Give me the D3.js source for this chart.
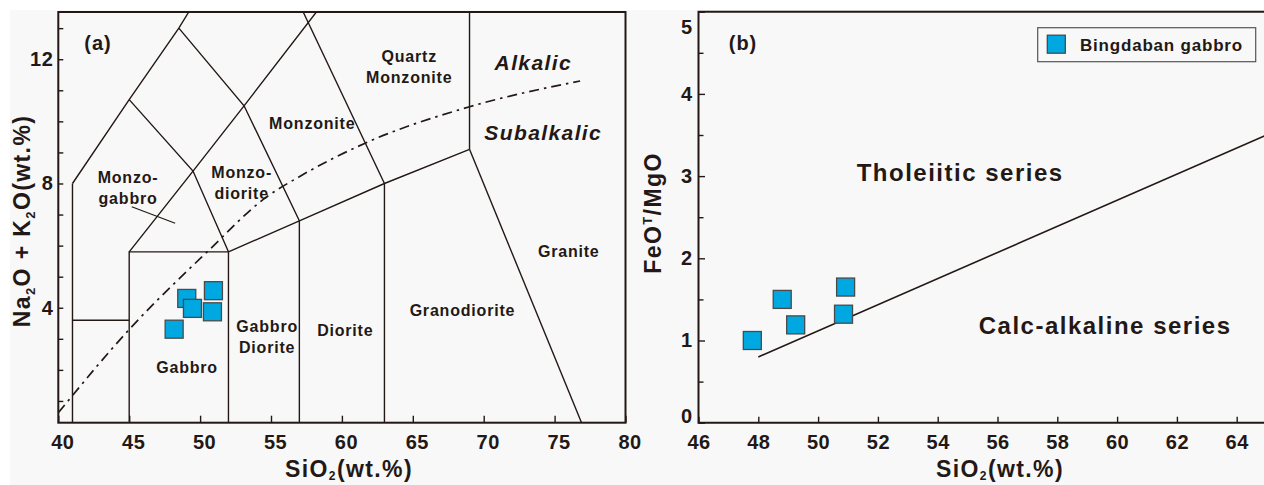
<!DOCTYPE html>
<html>
<head>
<meta charset="utf-8">
<script src="https://cdn.jsdelivr.net/npm/d3@7"></script>
<style>
  html, body { margin: 0; padding: 0; background: #ffffff; }
  svg { display: block; }
  text { fill: #231815; font-family: "Liberation Sans", Arial, sans-serif; font-weight: bold; }
</style>
</head>
<body>
<svg id="chart" width="1264" height="485"></svg>
<script>
// ---- Sample data: Bingdaban gabbro ----
const tasSiO2   = [48.17, 49.06, 49.46, 50.94, 50.87];
const tasAlkali = [3.31, 4.30, 3.98, 4.55, 3.87];

const febSiO2   = [47.80, 48.80, 49.25, 50.85, 50.92];
const febRatio  = [1.00, 1.50, 1.19, 1.32, 1.65];

// ---- Axis ticks ----
const tasXTicks = [40, 45, 50, 55, 60, 65, 70, 75, 80];
const tasYTicks = d3.range(1, 14);            // minor every 1 wt.%
const tasYLabels = [4, 8, 12];
const febXTicks = [46, 48, 50, 52, 54, 56, 58, 60, 62, 64];
const febYTicks = d3.range(0, 5.01, 0.5);
const febYLabels = [0, 1, 2, 3, 4, 5];

// ---- TAS plutonic field boundaries (SiO2, Na2O+K2O) ----
const tasBoundaries = [
  [[41, 0.3], [41, 8]],
  [[41, 3.6], [45, 3.6]],
  [[45, 0.3], [45, 5.8], [52, 5.8], [52, 0.3]],
  [[57, 0.3], [57, 6.8]],
  [[63, 0.3], [63, 8]],
  [[52, 5.8], [57, 6.8], [63, 8], [69, 9.1]],
  [[69, 9.1], [69, 13.52]],
  [[69, 9.1], [76.9, 0.3]],
  [[41, 8], [45, 10.7], [48.5, 13], [49.2, 13.52]],
  [[45, 5.8], [49.5, 8.4], [53.1, 10.5], [58.2, 13.52]],
  [[45, 10.7], [49.5, 8.4], [52, 5.8]],
  [[48.5, 13], [53.1, 10.5], [57, 6.8]],
  [[63, 8], [57.27, 13.52]]
];
const monzogabbroLeader = [[45.18, 7.25], [48.24, 6.72]];

// Alkaline / subalkaline divide
const alkalineDivide = [[40, 0.62], [45, 3.3], [50.5, 5.8], [54.7, 7.57], [57, 8.22],
                        [61.6, 9.29], [69, 10.47], [76.8, 11.3]];

// Field names and their anchor (SiO2, Na2O+K2O)
const tasFieldNames = [
  { lines: ["Monzo-", "gabbro"], at: [44.92, 7.87] },
  { lines: ["Monzo-", "diorite"], at: [52.93, 8.03] },
  { lines: ["Monzonite"], at: [57.91, 9.95] },
  { lines: ["Quartz", "Monzonite"], at: [64.75, 11.75] },
  { lines: ["Gabbro"], at: [49.08, 2.09] },
  { lines: ["Gabbro", "Diorite"], at: [54.73, 3.06] },
  { lines: ["Diorite"], at: [60.24, 3.28] },
  { lines: ["Granodiorite"], at: [68.5, 3.93] },
  { lines: ["Granite"], at: [76.0, 5.83] }
];
const seriesNamesTAS = [
  { text: "Alkalic", at: [73.5, 11.91] },
  { text: "Subalkalic", at: [74.2, 9.63] }
];

// FeOT/MgO vs SiO2 tholeiitic / calc-alkaline divide
const thDivide = [[48, 0.8], [65, 3.5]];
const seriesNamesFeO = [
  { text: "Tholeiitic series", at: [54.75, 3.05] },
  { text: "Calc-alkaline series", at: [59.6, 1.18] }
];

const ink = "#231815";
const markerFill = "#00a8e1";
const markerStroke = "#4a4a4a";
const markerSize = 18;

const svg = d3.select("#chart");

// page panel background
svg.append("rect").attr("x", 10).attr("y", 10).attr("width", 1254).attr("height", 475)
  .attr("fill", "#f8f8f8");

// ================= Panel (a): TAS =================
const xA = d3.scaleLinear().domain([40, 80]).range([58.3, 625.5]);
const yA = d3.scaleLinear().domain([0.3, 13.52]).range([422.7, 12]);
const gA = svg.append("g");

gA.append("clipPath").attr("id", "clipA").append("rect")
  .attr("x", xA(40)).attr("y", yA(13.52))
  .attr("width", xA(80) - xA(40)).attr("height", yA(0.3) - yA(13.52));

const lineA = d3.line().x(d => xA(d[0])).y(d => yA(d[1]));
const fields = gA.append("g").attr("clip-path", "url(#clipA)");
fields.selectAll("path.field").data(tasBoundaries).join("path")
  .attr("class", "field").attr("d", lineA)
  .attr("fill", "none").attr("stroke", ink).attr("stroke-width", 1.4)
  .attr("stroke-linejoin", "miter");
fields.append("path").attr("d", lineA(monzogabbroLeader))
  .attr("fill", "none").attr("stroke", ink).attr("stroke-width", 1.2);
fields.append("path")
  .attr("d", d3.line().x(d => xA(d[0])).y(d => yA(d[1])).curve(d3.curveMonotoneX)(alkalineDivide))
  .attr("fill", "none").attr("stroke", ink).attr("stroke-width", 1.7)
  .attr("stroke-dasharray", "10,5,2.5,5");

// field names
tasFieldNames.forEach(f => {
  const t = gA.append("text")
    .attr("text-anchor", "middle")
    .attr("font-size", 16).attr("letter-spacing", 0.8);
  const n = f.lines.length;
  f.lines.forEach((s, i) => {
    t.append("tspan").attr("x", xA(f.at[0]))
      .attr("y", yA(f.at[1]) + (i - (n - 1) / 2) * 20.5)
      .attr("dy", "0.36em").text(s);
  });
});
seriesNamesTAS.forEach(s => {
  gA.append("text").attr("x", xA(s.at[0])).attr("y", yA(s.at[1]))
    .attr("dy", "0.36em").attr("text-anchor", "middle")
    .attr("font-size", 21).attr("font-style", "italic").attr("letter-spacing", 1.4)
    .text(s.text);
});

// axes (inward ticks)
const axAx = gA.append("g").attr("transform", `translate(0,${yA(0.3)})`)
  .call(d3.axisBottom(xA).tickValues(tasXTicks).tickSize(-7).tickPadding(12).tickFormat(d3.format("d")));
const axAy = gA.append("g").attr("transform", `translate(${xA(40)},0)`)
  .call(d3.axisLeft(yA).tickValues(tasYTicks).tickSize(-5).tickPadding(5)
        .tickFormat(d => tasYLabels.includes(d) ? d : ""));
[axAx, axAy].forEach(a => {
  a.select(".domain").remove();
  a.selectAll(".tick line").attr("stroke", ink).attr("stroke-width", 1.4);
  a.selectAll(".tick text").attr("font-size", 20).attr("font-family", "Liberation Sans, Arial, sans-serif")
    .attr("font-weight", "bold").attr("fill", ink).attr("letter-spacing", 0.5);
});
axAx.selectAll(".tick text").attr("dx", 4);

// frame
gA.append("rect").attr("x", xA(40)).attr("y", yA(13.52))
  .attr("width", xA(80) - xA(40)).attr("height", yA(0.3) - yA(13.52))
  .attr("fill", "none").attr("stroke", ink).attr("stroke-width", 2);

// samples
gA.selectAll("rect.sample").data(tasSiO2.map((s, i) => [s, tasAlkali[i]])).join("rect")
  .attr("class", "sample")
  .attr("x", d => xA(d[0]) - markerSize / 2).attr("y", d => yA(d[1]) - markerSize / 2)
  .attr("width", markerSize).attr("height", markerSize)
  .attr("fill", markerFill).attr("stroke", markerStroke).attr("stroke-width", 1.3);

// panel tag and axis titles
gA.append("text").attr("x", 98).attr("y", 43).attr("dy", "0.36em").attr("text-anchor", "middle")
  .attr("font-size", 20).attr("letter-spacing", 1).text("(a)");

const xtA = gA.append("text").attr("x", 349).attr("y", 477).attr("text-anchor", "middle")
  .attr("font-size", 23).attr("letter-spacing", 1.4);
xtA.append("tspan").text("SiO");
xtA.append("tspan").attr("font-size", 12).attr("dy", 3).text("2");
xtA.append("tspan").attr("dy", -3).text("(wt.%)");

const ytA = gA.append("text").attr("transform", "translate(30,221) rotate(-90)")
  .attr("text-anchor", "middle").attr("font-size", 23).attr("letter-spacing", 1.4);
ytA.append("tspan").text("Na");
ytA.append("tspan").attr("font-size", 13).attr("dy", 5).text("2");
ytA.append("tspan").attr("dy", -5).text("O + K");
ytA.append("tspan").attr("font-size", 13).attr("dy", 5).text("2");
ytA.append("tspan").attr("dy", -5).text("O(wt.%)");

// ================= Panel (b): FeOT/MgO vs SiO2 =================
const xB = d3.scaleLinear().domain([46, 65]).range([698.5, 1266.6]);
const yB = d3.scaleLinear().domain([0, 5]).range([422.7, 11.7]);
const gB = svg.append("g");

gB.append("clipPath").attr("id", "clipB").append("rect")
  .attr("x", xB(46)).attr("y", yB(5)).attr("width", xB(65) - xB(46)).attr("height", yB(0) - yB(5));

gB.append("path").attr("clip-path", "url(#clipB)")
  .attr("d", d3.line().x(d => xB(d[0])).y(d => yB(d[1]))(thDivide))
  .attr("fill", "none").attr("stroke", ink).attr("stroke-width", 1.6);

seriesNamesFeO.forEach(s => {
  gB.append("text").attr("x", xB(s.at[0])).attr("y", yB(s.at[1])).attr("dy", "0.36em")
    .attr("text-anchor", "middle").attr("font-family", "'Open Sans', sans-serif")
    .attr("font-weight", 700).attr("font-size", 24).attr("letter-spacing", 1.5)
    .text(s.text);
});

const axBx = gB.append("g").attr("transform", `translate(0,${yB(0)})`)
  .call(d3.axisBottom(xB).tickValues(febXTicks).tickSize(-6).tickPadding(12).tickFormat(d3.format("d")));
const axBy = gB.append("g").attr("transform", `translate(${xB(46)},0)`)
  .call(d3.axisLeft(yB).tickValues(febYTicks).tickSize(-5).tickPadding(6)
        .tickFormat(d => febYLabels.includes(d) ? d : ""));
[axBx, axBy].forEach(a => {
  a.select(".domain").remove();
  a.selectAll(".tick line").attr("stroke", ink).attr("stroke-width", 1.4);
  a.selectAll(".tick text").attr("font-size", 20).attr("font-family", "Liberation Sans, Arial, sans-serif")
    .attr("font-weight", "bold").attr("fill", ink).attr("letter-spacing", 0.5);
});
axBy.selectAll(".tick line").attr("x2", d => Number.isInteger(d) ? 6.5 : 5);
// keep the end labels inside the frame
axBy.selectAll(".tick text").attr("transform", d => d === 5 ? "translate(0,15)" : d === 0 ? "translate(0,-7)" : null);

// frame: left, top, bottom
gB.append("path")
  .attr("d", `M${xB(65)},${yB(5)}H${xB(46)}V${yB(0)}H${xB(65)}`)
  .attr("fill", "none").attr("stroke", ink).attr("stroke-width", 2);

gB.selectAll("rect.sample").data(febSiO2.map((s, i) => [s, febRatio[i]])).join("rect")
  .attr("class", "sample")
  .attr("x", d => xB(d[0]) - markerSize / 2).attr("y", d => yB(d[1]) - markerSize / 2)
  .attr("width", markerSize).attr("height", markerSize)
  .attr("fill", markerFill).attr("stroke", markerStroke).attr("stroke-width", 1.3);

gB.append("text").attr("x", 743).attr("y", 43).attr("dy", "0.36em").attr("text-anchor", "middle")
  .attr("font-size", 20).attr("letter-spacing", 1).text("(b)");

// legend
const lg = gB.append("g").attr("transform", "translate(1037.7,27.7)");
lg.append("rect").attr("width", 218).attr("height", 34)
  .attr("fill", "none").attr("stroke", "#555").attr("stroke-width", 1.2);
lg.append("rect").attr("x", 9.6).attr("y", 7.5).attr("width", markerSize).attr("height", markerSize)
  .attr("fill", markerFill).attr("stroke", markerStroke).attr("stroke-width", 1.3);
lg.append("text").attr("x", 42.3).attr("y", 17).attr("dy", "0.36em")
  .attr("font-size", 17).attr("letter-spacing", 0.8).text("Bingdaban gabbro");

const xtB = gB.append("text").attr("x", 1000).attr("y", 477).attr("text-anchor", "middle")
  .attr("font-size", 23).attr("letter-spacing", 1.4);
xtB.append("tspan").text("SiO");
xtB.append("tspan").attr("font-size", 12).attr("dy", 3).text("2");
xtB.append("tspan").attr("dy", -3).text("(wt.%)");

const ytB = gB.append("text").attr("transform", "translate(661,213) rotate(-90)")
  .attr("text-anchor", "middle").attr("font-size", 23).attr("letter-spacing", 1.4);
ytB.append("tspan").text("FeO");
ytB.append("tspan").attr("font-size", 13).attr("dy", -9).text("T");
ytB.append("tspan").attr("dy", 9).text("/MgO");
</script>
</body>
</html>
